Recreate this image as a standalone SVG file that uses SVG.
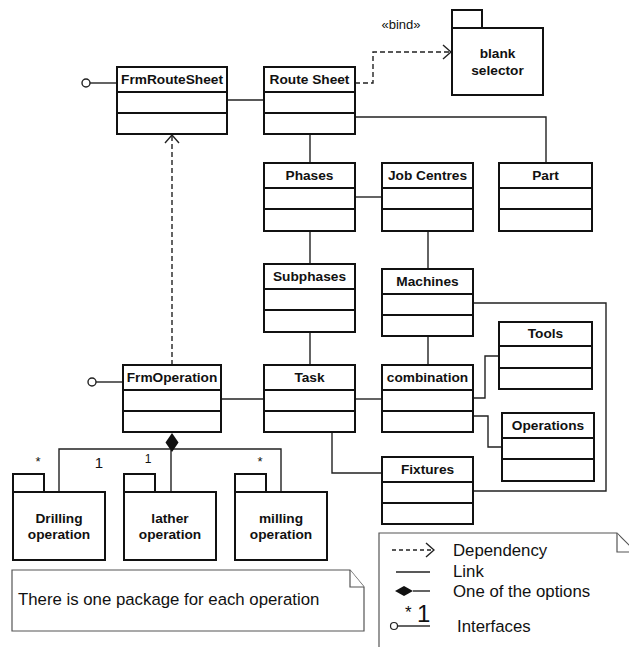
<svg xmlns="http://www.w3.org/2000/svg" width="629" height="647" viewBox="0 0 629 647">
<style>
.box{fill:#fff;stroke:#111;stroke-width:2}
.div{stroke:#111;stroke-width:2}
.ln{fill:none;stroke:#222;stroke-width:1.4}
.dash{fill:none;stroke:#222;stroke-width:1.4;stroke-dasharray:5 3}
.note{fill:#fff;stroke:#555;stroke-width:1.2}
.name{font-family:"Liberation Sans",Arial,sans-serif;font-weight:bold;font-size:13.7px;text-anchor:middle;fill:#111}
.txt{font-family:"Liberation Sans",Arial,sans-serif;font-size:16.8px;fill:#111}
.mult{font-family:"Liberation Sans",Arial,sans-serif;font-size:13px;fill:#111;text-anchor:middle}
</style>
<defs>
<marker id="open" viewBox="0 0 10 16" refX="9" refY="8" markerWidth="10" markerHeight="16" markerUnits="userSpaceOnUse" orient="auto">
<path d="M1 1 L9 8 L1 15" fill="none" stroke="#222" stroke-width="1.4"/>
</marker>
</defs>

<!-- connectors -->
<g id="connectors">
<path class="ln" d="M227 100 H264"/>
<path class="ln" d="M355 117 H546 V163"/>
<path class="ln" d="M310 134 V163"/>
<path class="ln" d="M355 197 H382"/>
<path class="ln" d="M310 231 V264"/>
<path class="ln" d="M428 231 V269"/>
<path class="ln" d="M473 303 H606 V491 H473"/>
<path class="ln" d="M310 332 V365"/>
<path class="ln" d="M428 336 V365"/>
<path class="ln" d="M221 399 H264"/>
<path class="ln" d="M355 399 H382"/>
<path class="ln" d="M473 398 H485 V356 H499"/>
<path class="ln" d="M473 416 H488 V447 H502"/>
<path class="ln" d="M332 432 V473 H382"/>
<path class="dash" d="M355 83 H373 V52 H451" marker-end="url(#open)"/>
<path class="dash" d="M172 365 V135" marker-end="url(#open)"/>
<!-- interfaces -->
<path class="ln" d="M90 83 H117"/>
<circle cx="86" cy="83" r="4" fill="#fff" stroke="#222" stroke-width="1.4"/>
<path class="ln" d="M96 382 H123"/>
<circle cx="92" cy="382" r="4" fill="#fff" stroke="#222" stroke-width="1.4"/>
<!-- composition -->
<path class="ln" d="M59 492 V449 H281 V492"/>
<path class="ln" d="M171 450 V492"/>
<path d="M172 433 L178.5 442.5 L172 452 L165.5 442.5 Z" fill="#111"/>
<text class="mult" x="38" y="466">*</text>
<text class="mult" x="99" y="468" style="font-size:15px">1</text>
<text class="mult" x="148" y="463" style="font-size:12px">1</text>
<text class="mult" x="260" y="466">*</text>
<text class="txt" x="401" y="29" style="font-size:13px" text-anchor="middle">«bind»</text>
</g>

<g id="frmRouteSheet">
<rect class="box" x="117" y="67" width="110" height="67"/>
<path class="div" d="M117 92 H227 M117 113 H227"/>
<text class="name" x="172" y="84">FrmRouteSheet</text>
</g>
<g id="routeSheet">
<rect class="box" x="264" y="67" width="91" height="67"/>
<path class="div" d="M264 92 H355 M264 113 H355"/>
<text class="name" x="309.5" y="84">Route Sheet</text>
</g>
<g id="blankSelector">
<rect class="box" x="452" y="10" width="30" height="18"/>
<rect class="box" x="452" y="28" width="91" height="67"/>
<text class="name" x="497.5" y="58">blank</text>
<text class="name" x="497.5" y="75">selector</text>
</g>
<g id="phases">
<rect class="box" x="264" y="163" width="91" height="68"/>
<path class="div" d="M264 188 H355 M264 209 H355"/>
<text class="name" x="309.5" y="180">Phases</text>
</g>
<g id="jobCentres">
<rect class="box" x="382" y="163" width="91" height="68"/>
<path class="div" d="M382 188 H473 M382 209 H473"/>
<text class="name" x="427.5" y="180">Job Centres</text>
</g>
<g id="part">
<rect class="box" x="499" y="163" width="93" height="68"/>
<path class="div" d="M499 188 H592 M499 209 H592"/>
<text class="name" x="545.5" y="180">Part</text>
</g>
<g id="subphases">
<rect class="box" x="264" y="264" width="91" height="68"/>
<path class="div" d="M264 289 H355 M264 310 H355"/>
<text class="name" x="309.5" y="281">Subphases</text>
</g>
<g id="machines">
<rect class="box" x="382" y="269" width="91" height="67"/>
<path class="div" d="M382 294 H473 M382 315 H473"/>
<text class="name" x="427.5" y="286">Machines</text>
</g>
<g id="tools">
<rect class="box" x="499" y="322" width="93" height="67"/>
<path class="div" d="M499 346 H592 M499 368 H592"/>
<text class="name" x="545.5" y="338">Tools</text>
</g>
<g id="frmOperation">
<rect class="box" x="123" y="365" width="98" height="67"/>
<path class="div" d="M123 390 H221 M123 411 H221"/>
<text class="name" x="172" y="382">FrmOperation</text>
</g>
<g id="task">
<rect class="box" x="264" y="365" width="91" height="67"/>
<path class="div" d="M264 390 H355 M264 411 H355"/>
<text class="name" x="309.5" y="382">Task</text>
</g>
<g id="combination">
<rect class="box" x="382" y="365" width="91" height="67"/>
<path class="div" d="M382 390 H473 M382 411 H473"/>
<text class="name" x="427.5" y="382">combination</text>
</g>
<g id="operations">
<rect class="box" x="502" y="413" width="92" height="68"/>
<path class="div" d="M502 438 H594 M502 459 H594"/>
<text class="name" x="548" y="430">Operations</text>
</g>
<g id="fixtures">
<rect class="box" x="382" y="457" width="91" height="67"/>
<path class="div" d="M382 482 H473 M382 503 H473"/>
<text class="name" x="427.5" y="474">Fixtures</text>
</g>
<g id="drillingOperation">
<rect class="box" x="13" y="474" width="31" height="18"/>
<rect class="box" x="13" y="492" width="92" height="68"/>
<text class="name" x="59" y="523">Drilling</text>
<text class="name" x="59" y="539">operation</text>
</g>
<g id="latherOperation">
<rect class="box" x="124" y="474" width="31" height="18"/>
<rect class="box" x="124" y="492" width="92" height="68"/>
<text class="name" x="170" y="523">lather</text>
<text class="name" x="170" y="539">operation</text>
</g>
<g id="millingOperation">
<rect class="box" x="235" y="474" width="31" height="18"/>
<rect class="box" x="235" y="492" width="92" height="68"/>
<text class="name" x="281" y="523">milling</text>
<text class="name" x="281" y="539">operation</text>
</g>

<g id="note">
<path class="note" d="M12 570 H350 L364 587 V631 H12 Z"/>
<path class="note" d="M350 570 V587 H364" fill="none"/>
<text class="txt" x="18" y="605">There is one package for each operation</text>
</g>

<g id="legend">
<path class="note" d="M379 648 V533 H617 L630 546 V648"/>
<path class="note" d="M617 533 V552 H630" fill="none"/>
<path class="dash" d="M392 550 H434" marker-end="url(#open)" style="stroke-dasharray:4 3"/>
<text class="txt" x="453" y="556">Dependency</text>
<path class="ln" d="M396 572 H430"/>
<text class="txt" x="453" y="577">Link</text>
<path d="M395 591 L404 586 L413 591 L404 596 Z" fill="#111"/>
<path class="ln" d="M413 591 H430"/>
<text class="txt" x="453" y="597">One of the options</text>
<text class="txt" x="405" y="618" style="font-size:17px">*</text>
<text class="txt" x="417" y="622" style="font-size:24px">1</text>
<path class="ln" d="M398 626 H430"/>
<circle cx="394" cy="626" r="3.5" fill="#fff" stroke="#222" stroke-width="1.2"/>
<text class="txt" x="457" y="632">Interfaces</text>
</g>
</svg>
